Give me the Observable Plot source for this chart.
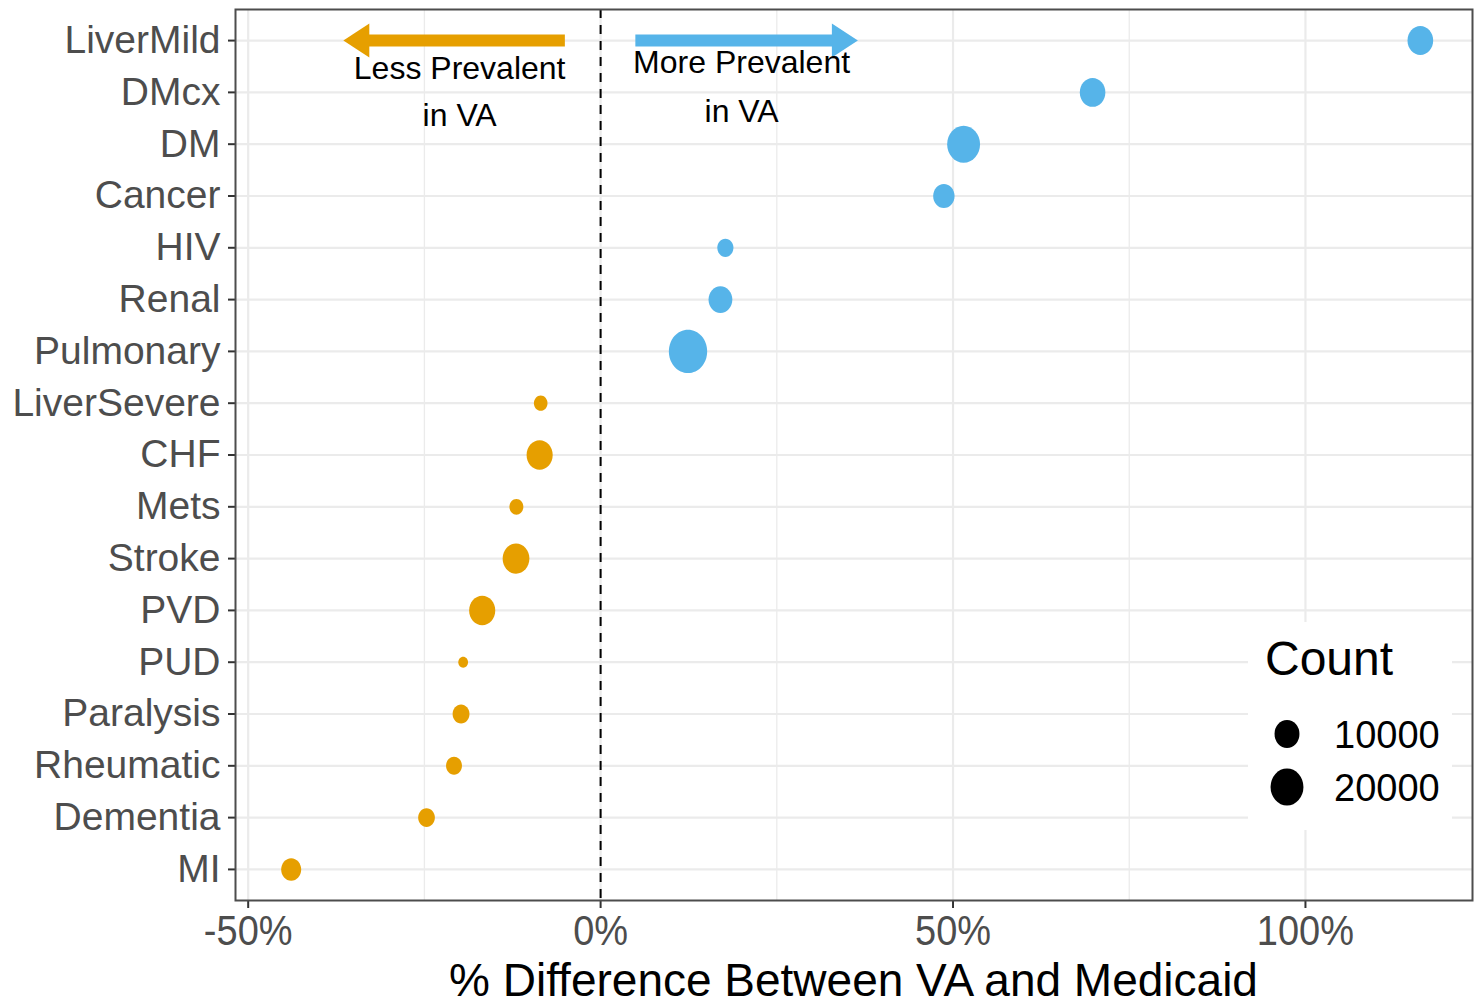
<!DOCTYPE html>
<html>
<head>
<meta charset="utf-8">
<script src="https://cdn.jsdelivr.net/npm/d3@7"></script>
<script src="https://cdn.jsdelivr.net/npm/@observablehq/plot@0.6"></script>
<style>
  html, body { margin: 0; padding: 0; background: #fff; overflow: hidden; }
  #chart svg { display: block; }
</style>
</head>
<body>
<div id="chart"></div>
<script>
// ---------- data ----------
const conditions = ["LiverMild", "DMcx", "DM", "Cancer", "HIV", "Renal", "Pulmonary",
  "LiverSevere", "CHF", "Mets", "Stroke", "PVD", "PUD", "Paralysis", "Rheumatic", "Dementia", "MI"];
const pctDiff = [116.3, 69.8, 51.5, 48.7, 17.7, 17.0, 12.4,
  -8.5, -8.65, -11.95, -12.0, -16.8, -19.5, -19.8, -20.8, -24.7, -43.9];
const counts = [10800, 10700, 20000, 6700, 3000, 8900, 28700,
  1700, 11300, 1850, 12000, 11300, 450, 3400, 2850, 3300, 5550];

const xTicks = [-50, 0, 50, 100];
const xMinorTicks = [-25, 25, 75];
const legendCounts = [10000, 20000];
const legendTitle = "Count";
const xTitle = "% Difference Between VA and Medicaid";

const annText = ["Less Prevalent", "in VA", "More Prevalent", "in VA"];
const annX = [-20, -20, 20, 20];
const annRow = [16.46, 15.54, 16.57, 15.62];

// arrows: tail, neck (head base), tip, in % units; drawn on the top row
const arrowTail = [-5, 5];
const arrowNeck = [-33.0, 33.0];
const arrowTip = [-36.5, 36.5];

const LESS_COLOR = "#E69F00";
const MORE_COLOR = "#56B4E9";
const GRID = "#EBEBEB";
const FONT = "'Liberation Sans', Arial, Helvetica, sans-serif";

// ---------- derived tables ----------
const nRows = conditions.length;
const rowPos = conditions.map((_, i) => nRows - i);
const points = conditions.map((c, i) => ({condition: c, row: nRows - i, pct: pctDiff[i], count: counts[i]}));
const annotations = annText.map((t, i) => ({text: t, x: annX[i], row: annRow[i]}));
const arrows = arrowTail.map((t, i) => ({tail: t, neck: arrowNeck[i], tip: arrowTip[i], row: nRows}));

const rOpts = {type: "sqrt", domain: [0, 20000], range: [3, 17.5]};
const ASPECT_X = 0.94, ASPECT_Y = 1.06;

const ellipse = {
  draw(ctx, size) {
    const r = Math.sqrt(size / Math.PI);
    const rx = r * ASPECT_X, ry = r * ASPECT_Y, k = 0.5523;
    ctx.moveTo(rx, 0);
    ctx.bezierCurveTo(rx, ry * k, rx * k, ry, 0, ry);
    ctx.bezierCurveTo(-rx * k, ry, -rx, ry * k, -rx, 0);
    ctx.bezierCurveTo(-rx, -ry * k, -rx * k, -ry, 0, -ry);
    ctx.bezierCurveTo(rx * k, -ry, rx, -ry * k, rx, 0);
    ctx.closePath();
  }
};
const HEAD_LEN = 26, HEAD_HALF = 17;
const headRight = {draw(ctx) { ctx.moveTo(0, 0); ctx.lineTo(-HEAD_LEN, -HEAD_HALF); ctx.lineTo(-HEAD_LEN, HEAD_HALF); ctx.closePath(); }};
const headLeft = {draw(ctx) { ctx.moveTo(0, 0); ctx.lineTo(HEAD_LEN, -HEAD_HALF); ctx.lineTo(HEAD_LEN, HEAD_HALF); ctx.closePath(); }};

const chart = Plot.plot({
  width: 1476,
  height: 1006,
  marginLeft: 235,
  marginRight: 4,
  marginTop: 9,
  marginBottom: 106,
  style: {fontFamily: FONT, background: "white", color: "#333333", overflow: "visible"},
  x: {domain: [-51.8, 123.7], ticks: xTicks, tickFormat: d => d + "%", tickSize: 8, tickPadding: 7, label: null},
  y: {domain: [0.4, nRows + 0.6], ticks: rowPos, tickFormat: v => conditions[nRows - v], tickSize: 7, tickPadding: 8, label: null},
  r: rOpts,
  marks: [
    Plot.ruleX(xMinorTicks, {stroke: GRID, strokeWidth: 1.3}),
    Plot.ruleX(xTicks, {stroke: GRID, strokeWidth: 2.2}),
    Plot.ruleY(rowPos, {stroke: GRID, strokeWidth: 2.2}),
    Plot.ruleX([0], {stroke: "black", strokeWidth: 2, strokeDasharray: "9,7"}),
    // arrows
    Plot.ruleY([arrows[0]], {y: "row", x1: "tail", x2: "neck", stroke: LESS_COLOR, strokeWidth: 12}),
    Plot.dot([arrows[0]], {x: "tip", y: "row", fill: LESS_COLOR, stroke: "none", symbol: headLeft, r: 10}),
    Plot.ruleY([arrows[1]], {y: "row", x1: "tail", x2: "neck", stroke: MORE_COLOR, strokeWidth: 12}),
    Plot.dot([arrows[1]], {x: "tip", y: "row", fill: MORE_COLOR, stroke: "none", symbol: headRight, r: 10}),
    Plot.text(annotations, {x: "x", y: "row", text: "text", fontSize: 32, fill: "black"}),
    // points
    Plot.dot(points, {
      x: "pct", y: "row", r: "count",
      fill: d => d.pct < 0 ? LESS_COLOR : MORE_COLOR,
      stroke: "none", symbol: ellipse
    }),
    Plot.frame({stroke: "#4D4D4D", strokeWidth: 2})
  ]
});

document.getElementById("chart").appendChild(chart);

// ---------- styling of axes ----------
const svg = d3.select(chart);
svg.selectAll("[aria-label^='x-axis'] text")
  .attr("font-size", 38)
  .attr("fill", "#4D4D4D")
  .each(function () {
    const t = this.getAttribute("transform") || "";
    this.setAttribute("transform", t + " scale(1,1.1)");
  });
svg.selectAll("[aria-label^='y-axis'] text")
  .attr("font-size", 39)
  .attr("fill", "#4D4D4D");
svg.selectAll("[aria-label^='x-axis'] line, [aria-label^='x-axis'] path, [aria-label^='y-axis'] line, [aria-label^='y-axis'] path")
  .attr("stroke-width", 2)
  .attr("stroke", "#333333");

// ---------- x axis title ----------
svg.append("text")
  .attr("x", (235 + 1472) / 2)
  .attr("y", 996)
  .attr("text-anchor", "middle")
  .attr("font-size", 46)
  .attr("fill", "black")
  .text(xTitle);

// ---------- size legend (inside panel, bottom right) ----------
const rScale = d3.scaleSqrt().domain(rOpts.domain).range(rOpts.range);
const lg = svg.append("g").attr("aria-label", "size legend").attr("text-anchor", "start");
lg.append("rect")
  .attr("x", 1248).attr("y", 622).attr("width", 204).attr("height", 208)
  .attr("fill", "white");
lg.append("text")
  .attr("x", 1265).attr("y", 675)
  .attr("text-anchor", "start")
  .attr("font-size", 48).attr("fill", "black")
  .text(legendTitle);
const keyX = 1287, keyY0 = 734, keyStep = 53;
legendCounts.forEach((c, i) => {
  const r = rScale(c);
  lg.append("ellipse")
    .attr("cx", keyX).attr("cy", keyY0 + i * keyStep)
    .attr("rx", r * ASPECT_X).attr("ry", r * ASPECT_Y)
    .attr("fill", "black");
  lg.append("text")
    .attr("x", 1334).attr("y", keyY0 + i * keyStep + 14)
    .attr("text-anchor", "start")
    .attr("font-size", 38).attr("fill", "black")
    .text(String(c));
});
</script>
</body>
</html>
